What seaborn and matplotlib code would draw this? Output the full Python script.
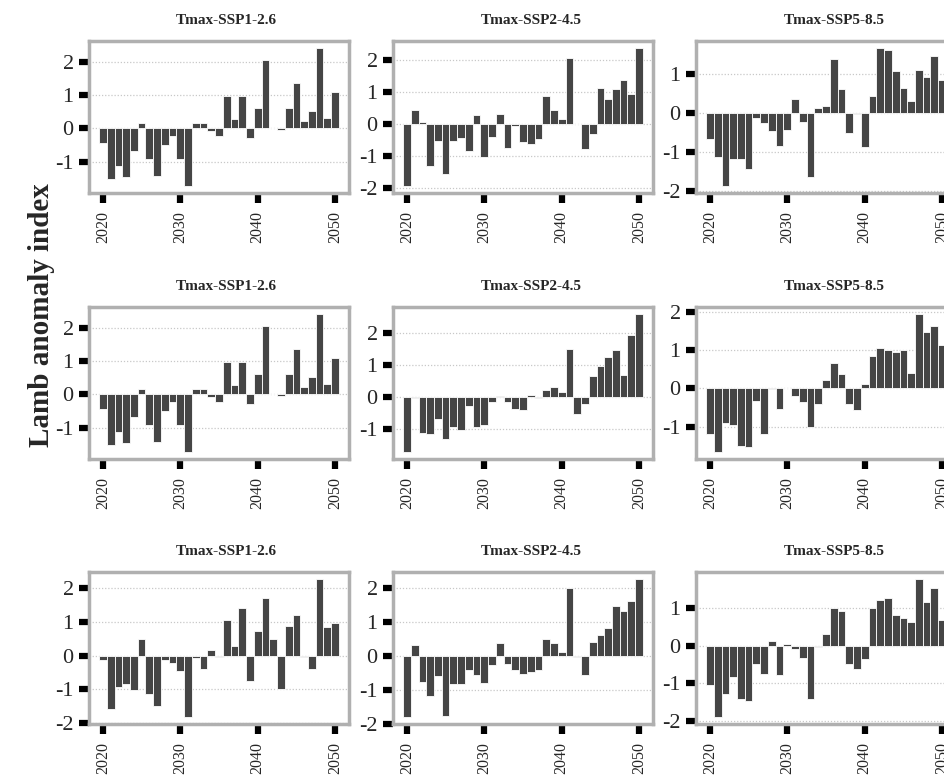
import matplotlib
matplotlib.use("Agg")
import matplotlib.pyplot as plt
import seaborn as sns
import pandas as pd
from matplotlib.ticker import MultipleLocator

years = list(range(2020, 2051))
titles = ["Tmax-SSP1-2.6", "Tmax-SSP2-4.5", "Tmax-SSP5-8.5"]
xtick_years = [2020, 2030, 2040, 2050]
ylabel = "Lamb anomaly index"

# Row 1
r1_ssp126 = [-0.43, -1.53, -1.12, -1.46, -0.69, 0.16, -0.92, -1.42, -0.51, -0.24,
             -0.92, -1.73, 0.16, 0.16, -0.08, -0.22, 0.99, 0.29, 0.99, -0.30,
             0.63, 2.06, 0.02, -0.04, 0.63, 1.38, 0.22, 0.53, 2.42, 0.30, 1.09]
r1_ssp245 = [-1.93, 0.44, 0.05, -1.32, -0.53, -1.57, -0.53, -0.45, -0.84, 0.29,
             -1.04, -0.42, 0.32, -0.76, -0.06, -0.57, -0.63, -0.47, 0.87, 0.44,
             0.15, 2.06, 0.00, -0.79, -0.30, 1.13, 0.77, 1.09, 1.36, 0.93, 2.36]
r1_ssp585 = [-0.66, -1.12, -1.87, -1.18, -1.18, -1.44, -0.12, -0.25, -0.45, -0.84,
             -0.43, 0.35, -0.24, -1.64, 0.14, 0.17, 1.38, 0.62, -0.51, -0.03,
             -0.88, 0.44, 1.67, 1.61, 1.08, 0.65, 0.30, 1.11, 0.92, 1.46, 0.86]
# Row 2
r2_ssp126 = [-0.43, -1.53, -1.12, -1.46, -0.69, 0.16, -0.92, -1.42, -0.51, -0.24,
             -0.92, -1.73, 0.16, 0.16, -0.08, -0.22, 0.99, 0.29, 0.99, -0.30,
             0.63, 2.06, 0.02, -0.04, 0.63, 1.38, 0.22, 0.53, 2.42, 0.30, 1.09]
r2_ssp245 = [-1.73, -0.05, -1.14, -1.16, -0.70, -1.33, -0.94, -1.05, -0.29, -0.96,
             -0.87, -0.17, 0.03, -0.16, -0.38, -0.42, 0.04, -0.04, 0.20, 0.30,
             0.13, 1.47, -0.55, -0.22, 0.64, 0.97, 1.23, 1.45, 0.68, 1.92, 2.58]
r2_ssp585 = [-1.18, -1.66, -0.90, -0.95, -1.49, -1.53, -0.34, -1.18, -0.01, -0.53,
             0.02, -0.21, -0.36, -1.00, -0.40, 0.21, 0.66, 0.37, -0.42, -0.56,
             0.11, 0.84, 1.05, 1.00, 0.96, 1.00, 0.39, 1.94, 1.46, 1.62, 1.14]
# Row 3
r3_ssp126 = [-0.13, -1.58, -0.93, -0.85, -1.03, 0.49, -1.13, -1.50, -0.13, -0.22,
             -0.44, -1.82, -0.07, -0.39, 0.17, -0.04, 1.05, 0.30, 1.41, -0.76,
             0.73, 1.72, 0.50, -1.00, 0.87, 1.21, -0.03, -0.40, 2.28, 0.84, 0.97]
r3_ssp245 = [-1.80, 0.32, -0.77, -1.17, -0.60, -1.78, -0.84, -0.84, -0.42, -0.55,
             -0.79, -0.28, 0.39, -0.23, -0.42, -0.52, -0.47, -0.40, 0.51, 0.37,
             0.12, 2.00, -0.04, -0.55, 0.41, 0.63, 0.81, 1.46, 1.32, 1.61, 2.27]
r3_ssp585 = [-1.04, -1.90, -1.30, -0.83, -1.41, -1.46, -0.48, -0.76, 0.11, -0.77,
             0.05, -0.10, -0.33, -1.43, -0.03, 0.32, 0.99, 0.91, -0.48, -0.61,
             -0.35, 1.00, 1.22, 1.27, 0.80, 0.74, 0.63, 1.77, 1.17, 1.52, 0.68]

panels = [[r1_ssp126, r1_ssp245, r1_ssp585],
          [r2_ssp126, r2_ssp245, r2_ssp585],
          [r3_ssp126, r3_ssp245, r3_ssp585]]

sns.set_style("white")
plt.rcParams['font.family'] = ['Liberation Serif', 'DejaVu Serif']
plt.rcParams['axes.unicode_minus'] = False

W, H = 945, 775
fig = plt.figure(figsize=(W / 100, H / 100), dpi=100)
lefts = [89, 393, 696]
tops = [41, 307, 572]
aw, ah = 260, 152

for r in range(3):
    for c in range(3):
        ax = fig.add_axes([lefts[c] / W, 1 - (tops[r] + ah) / H, aw / W, ah / H])
        df = pd.DataFrame({"year": years, "value": panels[r][c]})
        sns.barplot(data=df, x="year", y="value", native_scale=True,
                    color="#454545", saturation=1, width=1, errorbar=None,
                    edgecolor="white", linewidth=0.6, ax=ax, zorder=2)
        ax.set_xlim(2018.2, 2051.8)
        ax.set_xticks(xtick_years)
        ax.set_xticklabels([str(y) for y in xtick_years], rotation=90)
        ax.yaxis.set_major_locator(MultipleLocator(1))
        ax.set_xlabel("")
        ax.set_ylabel("")
        ax.set_title(titles[c], fontsize=11, fontweight="bold", pad=12, x=0.53)
        ax.yaxis.grid(True, linestyle=(0, (1, 1.5)), color="#c8c8c8", linewidth=0.9)
        ax.xaxis.grid(False)
        ax.set_axisbelow(True)
        for s in ax.spines.values():
            s.set_visible(True)
            s.set_color("#b0b0b0")
            s.set_linewidth(2.5)
            s.set_zorder(3)
        ax.tick_params(axis="both", which="major", direction="out", length=7,
                       width=4.5, color="black", bottom=True, left=True)
        ax.tick_params(axis="x", labelsize=11.5, pad=6)
        ax.tick_params(axis="y", labelsize=16, pad=4)

fig.text(0.044, 0.594, ylabel, rotation=90, fontsize=21, fontweight="bold",
         ha="center", va="center")

fig.savefig("out.png", dpi=100)
